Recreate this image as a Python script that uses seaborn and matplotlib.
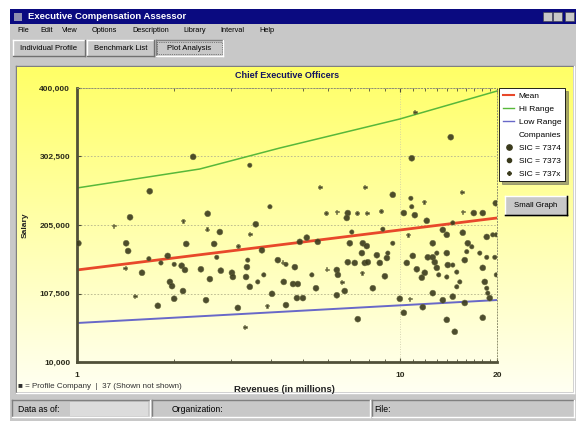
import numpy as np
import pandas as pd
import seaborn as sns
import matplotlib.pyplot as plt
from matplotlib.patches import Rectangle
from matplotlib.lines import Line2D
from matplotlib.ticker import FixedLocator, NullFormatter

# 1) DATA ─────────────────────────────────────────────────────────────────────
# revenue in $ millions, salary in $ ; size class L = 7374, M = 7373, S = 737x
revenue = [2.29, 3.43, 1.68, 3.96, 1.46, 2.54, 2.13,
           11.13, 14.38, 10.89, 5.65, 7.79, 9.51, 10.82, 15.56, 11.87, 10.89,
           5.90, 6.38, 6.90, 6.85, 7.36, 7.90, 8.74, 10.29, 11.13, 12.12,
           15.67, 16.95, 18.07, 19.83,
           1.01, 1.30, 1.42, 1.44, 1.41, 1.59, 1.67, 1.82, 1.91, 2.00, 2.11,
           2.16, 1.94, 1.97, 1.51, 1.78, 2.00, 2.13, 2.18, 2.53, 2.77, 2.66,
           2.42, 2.58, 2.71, 2.79, 2.51, 3.02, 3.04, 3.15, 3.15, 3.31, 3.36,
           3.38, 3.34, 3.43, 3.43, 3.58, 3.74, 3.63, 3.79, 4.02, 3.88, 4.19,
           4.44, 4.37, 4.44,
           4.90, 5.15, 5.57, 7.00, 7.10, 7.68, 7.90, 7.63, 8.86, 9.51, 10.59,
           13.59, 13.98, 14.59, 15.67, 16.24, 16.71, 18.59, 19.40, 12.65,
           4.34, 4.73, 4.67, 4.83, 4.80, 5.01, 5.34, 5.50, 5.94, 6.38, 6.43,
           6.38, 6.75, 6.61, 6.90, 7.25, 7.79, 7.96, 7.63, 8.49, 8.67, 8.99,
           9.12, 9.18, 8.25, 7.41, 10.00, 10.29, 10.51, 10.97, 11.29, 11.70,
           11.95, 12.21, 12.65, 12.83, 13.02, 13.20, 13.02, 13.98, 14.08,
           14.59, 15.01, 13.98, 15.34, 15.01, 14.59, 13.59, 12.65, 11.78,
           10.74, 15.89, 16.12, 15.89, 13.98, 14.80, 18.07, 18.07, 18.59,
           18.33, 18.59, 18.73, 18.99, 19.90, 19.69, 17.69, 19.90]
salary = [302000, 290000, 253000, 231000, 216000, 221000, 211000,
          366000, 330000, 300000, 259000, 259000, 248000, 243000, 252000,
          238000, 231000, 222000, 224000, 222000, 215000, 222000, 222000,
          225000, 222000, 219000, 211000, 224000, 222000, 222000, 236000,
          179000, 204000, 179000, 168000, 144000, 137000, 157000, 151000,
          161000, 149000, 147000, 141000, 124000, 118000, 104000, 90000,
          100000, 111000, 178000, 199000, 195000, 178000, 142000, 128000,
          159000, 140000, 98000, 137000, 131000, 175000, 87000, 60000,
          145000, 155000, 131000, 117000, 192000, 206000, 169000, 124000,
          134000, 107000, 90000, 155000, 149000, 124000, 91000,
          181000, 187000, 181000, 179000, 195000, 179000, 175000, 165000,
          199000, 179000, 191000, 198000, 191000, 208000, 194000, 179000,
          174000, 188000, 191000, 179000,
          152000, 145000, 121000, 121000, 101000, 101000, 134000, 115000,
          142000, 141000, 134000, 105000, 111000, 124000, 152000, 151000,
          151000, 152000, 137000, 162000, 151000, 132000, 158000, 165000,
          115000, 71000, 100000, 80000, 151000, 161000, 142000, 130000,
          137000, 159000, 159000, 152000, 144000, 134000, 165000, 165000,
          148000, 148000, 138000, 131000, 124000, 117000, 103000, 98000,
          108000, 88000, 100000, 155000, 167000, 94000, 70000, 53000, 73000,
          144000, 159000, 124000, 115000, 108000, 101000, 134000, 159000,
          165000, 191000]
size_class = list("LMLMLLS"
                  "SLLSSLMSSM" "SSLLSSSLLL" "SLLL"
                  "LSLLSLMMLM" "LLLLSLLLLS" "LLLLMLLLLS" "LSLMLLSLLM" "MLSLMLL"
                  "LLLLMLLLMM" "SLLMLLMLML"
                  "SLLLLLMLSL" "LLLSLLLLSL" "LLLMLLLLLL" "LLLLLLLMML"
                  "LMMMMMLLLL" "SLMLLLLLML" "MMLMMMM")
sic_names = {"L": "SIC = 7374", "M": "SIC = 7373", "S": "SIC = 737x"}

line_rev = [1, 20]
mean_sal = [141000, 215000]
low_sal = [65500, 98200]
hi_rev = [1, 2.4, 4.25, 10, 20]
hi_sal = [257700, 284700, 314600, 355900, 395700]

x_ticks = [1, 10, 20]
y_ticks = [10000, 107500, 205000, 302500, 400000]

menu_items = [("File", 17), ("Edit", 40), ("View", 62), ("Options", 92),
              ("Description", 132), ("Library", 183), ("Interval", 220),
              ("Help", 259)]
tabs = [("Individual Profile", 13, 85), ("Benchmark List", 87, 154),
        ("Plot Analysis", 156, 223)]

df = pd.DataFrame({"revenue": revenue, "salary": salary,
                   "sic": [sic_names[c] for c in size_class]})

# 2) WINDOW CHROME ────────────────────────────────────────────────────────────
W, H = 576, 422
GREY = "#c8c8c8"
DOT = "#3a3a1c"
RED, GREEN, BLUE = "#e8482a", "#58b83a", "#6868c8"
FONT = "Liberation Sans"

fig = plt.figure(figsize=(W / 100, H / 100), dpi=100)
fig.patch.set_facecolor("white")

def fx(px): return px / W
def fy(py): return 1 - py / H

def rect(x0, y0, x1, y1, z=-3, **kw):
    fig.add_artist(Rectangle((fx(x0), fy(y1)), (x1 - x0) / W, (y1 - y0) / H,
                             transform=fig.transFigure, zorder=z, **kw))

def hline(x0, x1, y, c, z=-3, lw=1):
    fig.add_artist(Line2D([fx(x0), fx(x1)], [fy(y), fy(y)], color=c, lw=lw,
                          transform=fig.transFigure, zorder=z))

def vline(x, y0, y1, c, z=-3, lw=1):
    fig.add_artist(Line2D([fx(x), fx(x)], [fy(y0), fy(y1)], color=c, lw=lw,
                          transform=fig.transFigure, zorder=z))

def bevel(x0, y0, x1, y1, raised=True, z=-3):
    hi, lo = ("white", "#707070") if raised else ("#808080", "white")
    hline(x0, x1, y0, hi, z); vline(x0, y0, y1, hi, z)
    hline(x0, x1, y1, lo, z); vline(x1, y0, y1, lo, z)

def label(px, py, s, **kw):
    kw.setdefault("fontsize", 5)
    kw.setdefault("va", "center")
    kw.setdefault("family", FONT)
    fig.text(fx(px), fy(py), s, **kw)

rect(10, 9, 576, 421, facecolor=GREY, edgecolor="none", z=-4)
rect(10, 9, 576, 24, facecolor="#0a0a80", edgecolor="none")
label(28, 16.5, "Executive Compensation Assessor", color="white",
      fontsize=6.8, fontweight="bold")
rect(14, 13, 22, 21, facecolor="#9090b0", edgecolor="none")
for bx in (543, 553, 565):
    rect(bx, 12, bx + 9, 21, facecolor=GREY, edgecolor="#404040", lw=0.4)

for name, px in menu_items:
    label(px, 31, name, fontsize=5.3)

for name, x0, x1 in tabs:
    bevel(x0, 40, x1, 56, raised=(name != "Plot Analysis"))
    label((x0 + x1) / 2, 48, name, ha="center", fontsize=5.6)
rect(157, 42, 222, 54, facecolor="none", edgecolor="#303030", lw=0.5, ls=":")

# chart panel with yellow gradient
bevel(16, 66, 574, 393, raised=False)
bg = fig.add_axes([fx(17), fy(392), (573 - 17) / W, (392 - 67) / H], zorder=-2)
shade = np.linspace(0.40, 0.95, 256)
grad = np.stack([np.ones_like(shade), np.ones_like(shade), shade], axis=-1)
grad = np.repeat(grad[:, None, :], 2, axis=1)
bg.imshow(grad, aspect="auto", extent=[0, 1, 0, 1])
bg.axis("off")

# status bar
for x0, x1 in ((12, 150), (152, 370), (372, 574)):
    bevel(x0, 400, x1, 417, raised=False)
rect(70, 402, 148, 416, facecolor="#dcdcdc", edgecolor="none")
label(18, 409, "Data as of:", fontsize=6.2)
label(172, 409, "Organization:", fontsize=6.2)
label(374, 409, "File:", fontsize=6.2)

# 3) PLOT ─────────────────────────────────────────────────────────────────────
ax = fig.add_axes([fx(77), fy(362), 420 / W, 274 / H])
ax.patch.set_alpha(0)

sns.lineplot(x=hi_rev, y=hi_sal, color=GREEN, lw=1.1, ax=ax)
sns.lineplot(x=line_rev, y=low_sal, color=BLUE, lw=1.4, ax=ax)
sns.lineplot(x=line_rev, y=mean_sal, color=RED, lw=2, ax=ax)
sns.scatterplot(data=df, x="revenue", y="salary", hue="sic", size="sic",
                style="sic",
                palette={v: DOT for v in sic_names.values()},
                sizes={"SIC = 7374": 18, "SIC = 7373": 10, "SIC = 737x": 8},
                markers={"SIC = 7374": "o", "SIC = 7373": "o",
                         "SIC = 737x": "P"},
                edgecolor="#6a6a40", linewidth=0.4, alpha=0.9,
                legend=False, ax=ax, zorder=3)

ax.set_xscale("log")
ax.set_xlim(1, 20)
ax.set_ylim(10000, 400000)
ax.set_xticks(x_ticks)
ax.set_xticklabels([str(t) for t in x_ticks])
ax.xaxis.set_minor_locator(FixedLocator(list(range(2, 10)) + list(range(11, 20))))
ax.xaxis.set_minor_formatter(NullFormatter())
ax.set_yticks(y_ticks)
ax.set_yticklabels([f"{t:,}" for t in y_ticks])
ax.tick_params(which="both", direction="in", top=True, colors="#505038",
               labelcolor="#2a2a1a", labelsize=6, pad=5)
ax.tick_params(axis="x", pad=7)
ax.tick_params(which="major", length=3)
ax.tick_params(which="minor", length=2)
for t in ax.get_xticklabels() + ax.get_yticklabels():
    t.set_family(FONT); t.set_fontweight("bold")

ax.grid(axis="y", color="#b4b48c", lw=0.6, ls=(0, (2, 2)))
ax.grid(axis="x", which="major", color="#c8c8a8", lw=0.6, ls=(0, (1, 2)))
for side in ("left", "bottom"):
    ax.spines[side].set_color("#505038"); ax.spines[side].set_linewidth(2)
for side in ("top", "right"):
    ax.spines[side].set_color("#909070"); ax.spines[side].set_linewidth(0.7)
    ax.spines[side].set_linestyle((0, (1, 2)))

ax.set_xlabel("Revenues (in millions)", fontsize=6.8, fontweight="bold",
              family=FONT, color="#202020")
ax.xaxis.set_label_coords(0.495, -0.083)
ax.set_ylabel("Salary", fontsize=6, fontweight="bold", family=FONT,
              color="#202020")
ax.yaxis.set_label_coords(-0.115, 0.5)

label(287, 76, "Chief Executive Officers", ha="center", fontsize=6.5,
      fontweight="bold", color="#141460")
label(18, 386, "\u25a0 = Profile Company  |  37 (Shown not shown)",
      fontsize=5.8, color="#303030")

# 4) LEGEND + BUTTON ──────────────────────────────────────────────────────────
handles = [Line2D([], [], color=RED, lw=1.5, label="Mean"),
           Line2D([], [], color=GREEN, lw=1, label="Hi Range"),
           Line2D([], [], color=BLUE, lw=1, label="Low Range"),
           Line2D([], [], ls="none", label="Companies"),
           Line2D([], [], ls="none", marker="o", ms=3.8, color=DOT,
                  label="SIC = 7374"),
           Line2D([], [], ls="none", marker="o", ms=3.0, color=DOT,
                  label="SIC = 7373"),
           Line2D([], [], ls="none", marker="P", ms=2.6, color=DOT,
                  label="SIC = 737x")]
leg = ax.legend(handles=handles, loc="upper left",
                bbox_to_anchor=(fx(499), fy(88)), bbox_transform=fig.transFigure,
                prop={"family": FONT, "size": 6}, frameon=True,
                fancybox=False, shadow=True, edgecolor="black",
                handlelength=1.4, borderpad=0.45, labelspacing=0.62,
                handletextpad=0.5, borderaxespad=0)
leg.get_frame().set_linewidth(0.6)

rect(505, 196, 567, 215, facecolor=GREY, edgecolor="none", z=4)
bevel(505, 196, 567, 215, raised=True, z=5)
hline(505, 567, 215, "black", z=5)
vline(567, 196, 215, "black", z=5)
label(536, 205.5, "Small Graph", ha="center", fontsize=5.6, zorder=6)

plt.savefig("out.png", dpi=100)
